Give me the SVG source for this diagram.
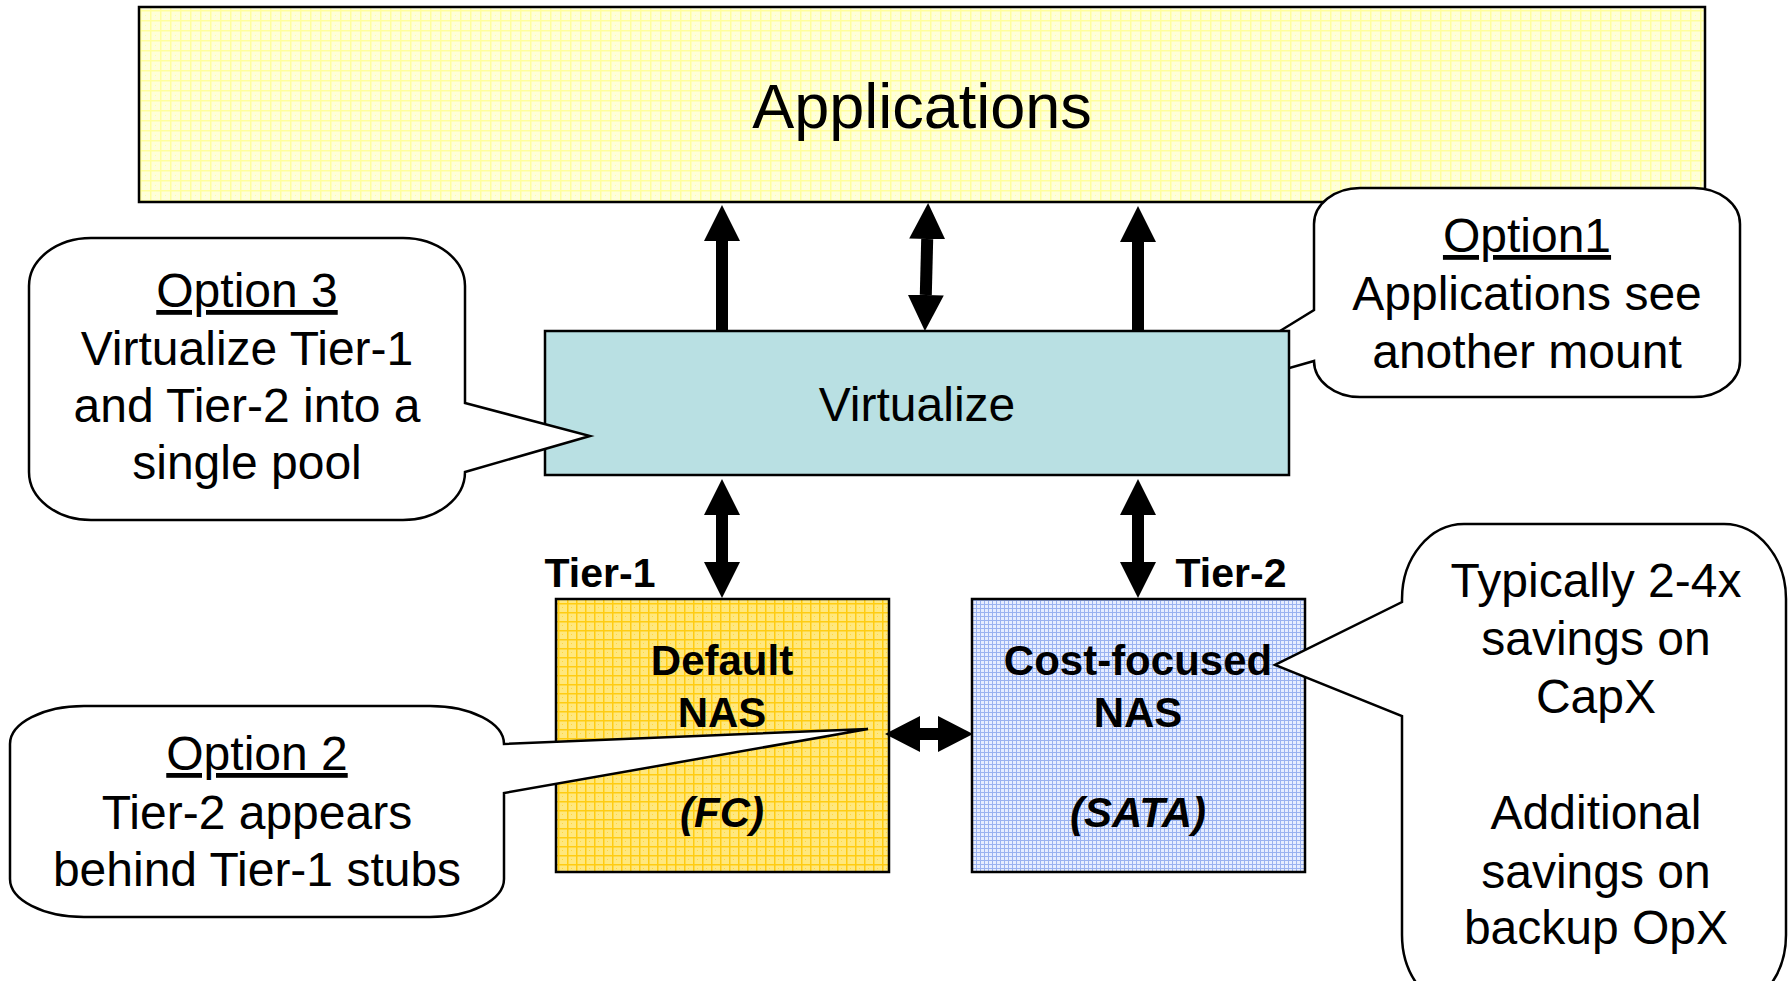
<svg xmlns="http://www.w3.org/2000/svg" width="1788" height="981" viewBox="0 0 1788 981">
  <defs>
    <pattern id="gridApps" width="10" height="10" patternUnits="userSpaceOnUse">
      <rect width="10" height="10" fill="#FFFFD8"/>
      <path d="M0,0.75 H10 M0.75,0 V10" stroke="#FFFF9C" stroke-width="1.5"/>
      <rect x="5" y="5" width="1" height="1" fill="#FFFFA8"/>
    </pattern>
    <pattern id="gridGold" width="9" height="9" patternUnits="userSpaceOnUse">
      <rect width="9" height="9" fill="#FFE87E"/>
      <path d="M0,0.75 H9 M0.75,0 V9" stroke="#FFCC12" stroke-width="1.5"/>
      <rect x="4" y="4" width="1" height="1" fill="#FFD640"/>
    </pattern>
    <pattern id="gridBlue" width="4" height="4" patternUnits="userSpaceOnUse">
      <rect width="4" height="4" fill="#E6EDFF"/>
      <path d="M0,0.5 H4 M0.5,0 V4" stroke="#9AB2F0" stroke-width="1"/>
    </pattern>
    <marker id="head" viewBox="0 0 36 36" refX="0" refY="18" markerWidth="36" markerHeight="36" markerUnits="userSpaceOnUse" orient="auto-start-reverse">
      <path d="M0,0 L36,18 L0,36 Z" fill="#000"/>
    </marker>
    <marker id="headH" viewBox="0 0 35 36" refX="0" refY="18" markerWidth="35" markerHeight="36" markerUnits="userSpaceOnUse" orient="auto-start-reverse">
      <path d="M0,0 L35,18 L0,36 Z" fill="#000"/>
    </marker>
  </defs>
  <style>
    .box { stroke: #000; stroke-width: 2.5; }
    .callout { fill: #fff; stroke: #000; stroke-width: 2.5; stroke-linejoin: miter; }
    .t { font-family: "Liberation Sans", Arial, sans-serif; fill: #000; text-anchor: middle; }
    .n { font-size: 48px; }
    .big { font-size: 63px; }
    .b { font-size: 42px; font-weight: bold; }
    .tier { font-size: 41px; font-weight: bold; }
    .u { text-decoration: underline; }
    .conn { stroke: #000; stroke-width: 12; fill: none; }
  </style>

  <rect width="1788" height="981" fill="#fff"/>

  <g id="applications">
    <rect class="box" x="139" y="7" width="1566" height="195" fill="url(#gridApps)"/>
    <text class="t big" x="922" y="128">Applications</text>
  </g>

  <g id="option1">
    <path class="callout" d="M1360,188 H1694 A46 36 0 0 1 1740,224 V361 A46 36 0 0 1 1694,397 H1360 A46 36 0 0 1 1314,361 L1160,405 L1314,310 V224 A46 36 0 0 1 1360,188 Z"/>
    <text class="t n u" x="1527" y="252">Option1</text>
    <text class="t n" x="1527" y="310">Applications see</text>
    <text class="t n" x="1527" y="368">another mount</text>
  </g>

  <g id="virtualize">
    <rect class="box" x="545" y="331" width="744" height="144" fill="#B9E0E3"/>
    <text class="t n" x="917" y="421">Virtualize</text>
  </g>

  <g id="default-nas">
    <rect class="box" x="556" y="599" width="333" height="273" fill="url(#gridGold)"/>
    <text class="t b" x="722" y="675">Default</text>
    <text class="t b" x="722" y="727">NAS</text>
    <text class="t b" x="722" y="827" font-style="italic">(FC)</text>
  </g>

  <g id="cost-nas">
    <rect class="box" x="972" y="599" width="333" height="273" fill="url(#gridBlue)"/>
    <text class="t b" x="1138" y="675">Cost-focused</text>
    <text class="t b" x="1138" y="727">NAS</text>
    <text class="t b" x="1138" y="827" font-style="italic">(SATA)</text>
  </g>

  <g id="tier-labels">
    <text class="t tier" x="600" y="587">Tier-1</text>
    <text class="t tier" x="1231" y="587">Tier-2</text>
  </g>

  <g id="connectors">
    <line class="conn" x1="722" y1="331" x2="722" y2="241" marker-end="url(#head)"/>
    <line class="conn" x1="927.2" y1="239" x2="925.8" y2="295" marker-start="url(#head)" marker-end="url(#head)"/>
    <line class="conn" x1="1138" y1="331" x2="1138" y2="242" marker-end="url(#head)"/>
    <line class="conn" x1="722" y1="515" x2="722" y2="562" marker-start="url(#head)" marker-end="url(#head)"/>
    <line class="conn" x1="1138" y1="515" x2="1138" y2="562" marker-start="url(#head)" marker-end="url(#head)"/>
    <line class="conn" x1="920" y1="734" x2="938" y2="734" marker-start="url(#headH)" marker-end="url(#headH)"/>
  </g>

  <g id="option3">
    <path class="callout" d="M91,238 H403 A62 48 0 0 1 465,286 V403 L590,436 L465,472 A62 48 0 0 1 403,520 H91 A62 48 0 0 1 29,472 V286 A62 48 0 0 1 91,238 Z"/>
    <text class="t n u" x="247" y="307">Option 3</text>
    <text class="t n" x="247" y="365">Virtualize Tier-1</text>
    <text class="t n" x="247" y="422">and Tier-2 into a</text>
    <text class="t n" x="247" y="479">single pool</text>
  </g>

  <g id="option2">
    <path class="callout" d="M84,706 H430 A74 38 0 0 1 504,744 L868,729 L504,793 V879 A74 38 0 0 1 430,917 H84 A74 38 0 0 1 10,879 V744 A74 38 0 0 1 84,706 Z"/>
    <text class="t n u" x="257" y="770">Option 2</text>
    <text class="t n" x="257" y="829">Tier-2 appears</text>
    <text class="t n" x="257" y="886">behind Tier-1 stubs</text>
  </g>

  <g id="savings">
    <path class="callout" d="M1464,524 H1724 A62 75 0 0 1 1786,599 V935 A62 75 0 0 1 1724,1010 H1464 A62 75 0 0 1 1402,935 V716 L1275,665 L1402,602 V599 A62 75 0 0 1 1464,524 Z"/>
    <text class="t n" x="1596" y="597">Typically 2-4x</text>
    <text class="t n" x="1596" y="655">savings on</text>
    <text class="t n" x="1596" y="713">CapX</text>
    <text class="t n" x="1596" y="829">Additional</text>
    <text class="t n" x="1596" y="888">savings on</text>
    <text class="t n" x="1596" y="944">backup OpX</text>
  </g>
</svg>
